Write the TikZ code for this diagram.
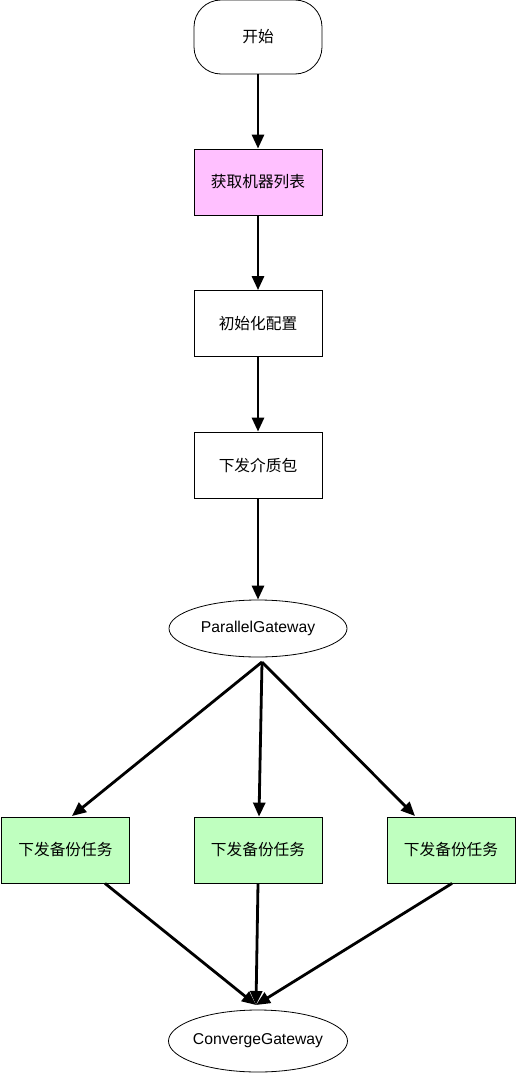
\documentclass[tikz,border=0pt]{standalone}
\usepackage{fontspec}
\setmainfont{Liberation Sans}
\newfontfamily\cjk{Noto Sans CJK SC}
\usetikzlibrary{arrows.meta,shapes.geometric}
\definecolor{pinkfill}{HTML}{FFC0FF}
\definecolor{greenfill}{HTML}{BFFFBF}
\begin{document}
\begin{tikzpicture}[x=1pt,y=-1pt,
  every node/.style={font=\fontsize{15.7}{18}\selectfont},
  stepbox/.style={draw=black,line width=0.8pt,minimum width=128pt,minimum height=66pt,inner sep=0pt},
  gate/.style={draw=black,line width=0.8pt,ellipse,inner sep=0pt},
  flow/.style={line width=2.8pt,-{Triangle[width=12pt,length=14pt]}}]
  \useasboundingbox (0,0) rectangle (516,1073);
  % process nodes
  \node[stepbox,rounded corners=27pt,minimum height=74pt] (start) at (258,37) {\cjk 开始};
  \node[stepbox,fill=pinkfill] (fetch) at (258,182) {\cjk 获取机器列表};
  \node[stepbox] (init) at (258,323.5) {\cjk 初始化配置};
  \node[stepbox] (pkg) at (258,465) {\cjk 下发介质包};
  \node[gate,minimum width=178pt,minimum height=57pt] (pg) at (258,628.5) {\makebox[0pt]{ParallelGateway}};
  \node[stepbox,fill=greenfill] (t1) at (65.5,850) {\cjk 下发备份任务};
  \node[stepbox,fill=greenfill] (t2) at (258,850) {\cjk 下发备份任务};
  \node[stepbox,fill=greenfill] (t3) at (451,850) {\cjk 下发备份任务};
  \node[gate,minimum width=179pt,minimum height=62pt] (cg) at (258,1041) {\makebox[0pt]{ConvergeGateway}};
  % anchor points of the fan-out and fan-in
  \coordinate (split) at (262,662);
  \coordinate (join) at (256,1005);
  % connectors
  \draw[flow] (start.south) -- (fetch.north);
  \draw[flow] (fetch.south) -- (init.north);
  \draw[flow] (init.south) -- (pkg.north);
  \draw[flow] (pkg.south) -- (pg.north);
  \draw[flow] (split) -- (72,816);
  \draw[flow] (split) -- (t2.north -| 259,0);
  \draw[flow] (split) -- (415,816);
  \draw[flow] (t1.south -| 105,0) -- (join);
  \draw[flow] (t2.south) -- (join);
  \draw[flow] (t3.south -| 452,0) -- (join);
\end{tikzpicture}
\end{document}
